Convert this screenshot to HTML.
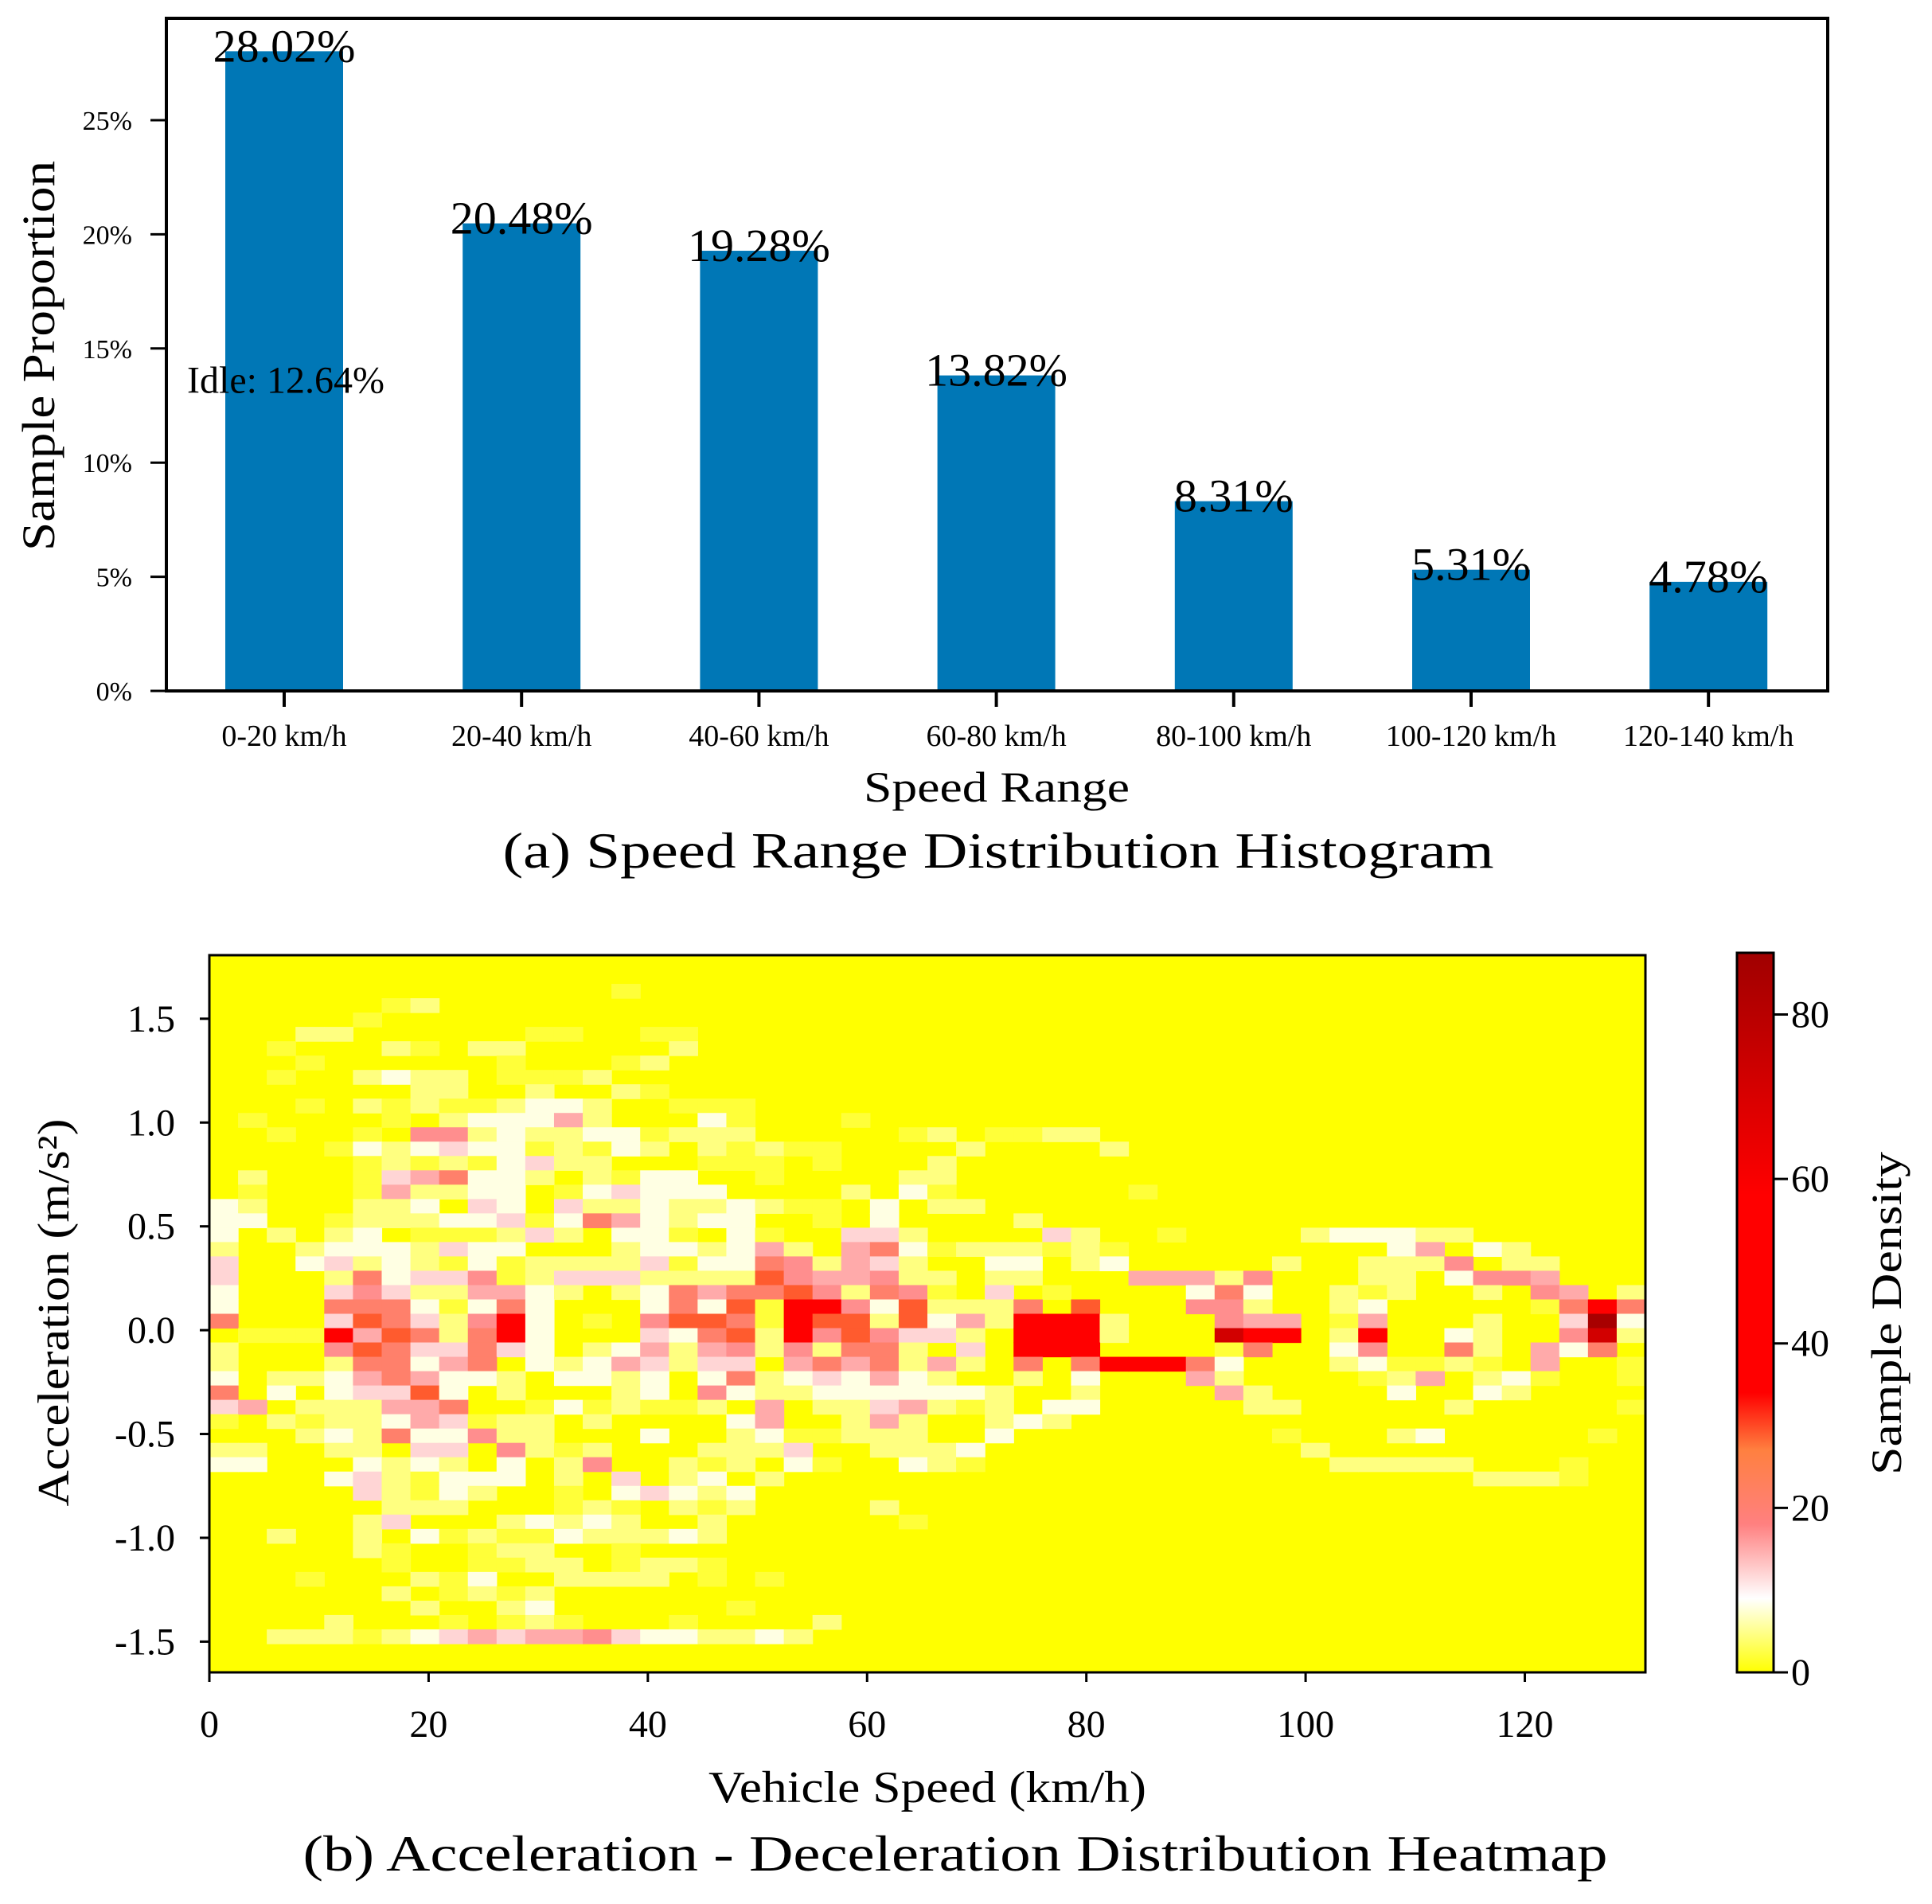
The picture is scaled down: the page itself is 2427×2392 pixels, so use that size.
<!DOCTYPE html>
<html><head><meta charset="utf-8"><style>
html,body{margin:0;padding:0;background:#fff;}
svg{display:block;font-family:"Liberation Serif",serif;}
</style></head><body>
<svg id="fig" width="2427" height="2392" viewBox="0 0 2427 2392" xmlns="http://www.w3.org/2000/svg">
<g id="topgrp"></g>
<g id="botgrp"></g>
</svg>
<script>
// ---------- Chart (a) data ----------
const categories = ["0-20 km/h","20-40 km/h","40-60 km/h","60-80 km/h","80-100 km/h","100-120 km/h","120-140 km/h"];
const proportions = [28.02, 20.48, 19.28, 13.82, 8.31, 5.31, 4.78];
const barLabels = ["28.02%","20.48%","19.28%","13.82%","8.31%","5.31%","4.78%"];
const yTicksA = [0,5,10,15,20,25];
const yTickLabelsA = ["0%","5%","10%","15%","20%","25%"];
const idleValue = 12.64;
const idleLabel = "Idle: 12.64%";

// ---------- Chart (b) data ----------
const xTicksB = [0,20,40,60,80,100,120];
const yTicksB = [1.5,1.0,0.5,0.0,-0.5,-1.0,-1.5];
const yTickLabelsB = ["1.5","1.0","0.5","0.0","-0.5","-1.0","-1.5"];
const cbTicks = [0,20,40,60,80];
const levelValues = [0,2,4.5,8,12,15,17,21,29,45,72,85];
// rows from top (acc high) to bottom; "col:level" with level a=10,b=11
const heatRows = [
"","",
"14:1",
"6:1 7:2",
"5:1",
"3:2 4:2 11:1 12:1 15:1 16:1",
"2:1 6:2 7:1 9:2 10:2 16:2",
"3:1 10:1 14:1 15:2",
"2:1 5:2 6:3 7:2 8:2 10:1 11:1 12:1 13:2",
"7:2 8:2 11:2 14:2 15:1",
"3:1 5:2 6:1 7:2 8:1 9:1 10:2 11:3 12:3 13:2 16:1 17:1 18:1",
"1:1 6:1 8:2 9:3 10:3 11:3 12:5 13:2 17:3 18:1 22:1",
"2:1 5:1 7:6 8:6 9:2 10:3 11:2 12:2 13:3 14:3 15:1 16:2 17:2 18:2 24:1 25:2 27:1 28:1 29:2 30:2",
"4:1 5:3 6:2 7:3 8:4 9:3 10:3 11:1 12:2 13:1 14:3 15:2 17:2 18:1 19:2 20:1 21:1 26:2 31:2",
"5:1 6:2 7:1 8:2 9:1 10:3 11:4 12:2 13:2 17:1 18:1 19:1 21:1 25:2",
"1:2 5:1 6:4 7:5 8:7 9:3 10:3 11:2 13:2 14:1 15:3 16:3 19:1 24:2 25:2",
"1:1 5:1 6:5 7:2 8:2 9:3 10:3 12:1 13:3 14:4 15:3 16:3 17:3 22:2 24:3 25:1 32:1",
"0:3 1:2 5:2 6:2 7:3 9:4 10:3 12:4 13:2 14:2 15:3 16:2 17:2 18:3 19:2 20:1 21:1 23:3 25:2 26:2",
"0:3 1:3 4:1 5:2 6:2 7:2 8:3 9:3 10:4 11:1 12:3 13:7 14:5 15:3 16:2 17:3 18:3 21:1 23:3 28:2",
"0:3 2:2 4:2 5:3 7:1 8:1 9:1 10:2 11:4 12:2 14:3 15:3 16:1 18:3 19:1 22:4 23:4 24:2 29:4 30:2 33:1 38:2 39:3 40:3 41:3 42:2 43:2",
"0:2 3:2 4:3 5:3 6:3 7:2 8:4 9:3 10:3 14:2 15:3 16:3 17:2 18:3 19:5 20:2 22:5 23:7 24:3 25:1 26:2 27:2 28:2 29:1 30:2 31:1 41:3 42:5 44:3 45:2",
"0:4 3:3 4:4 5:2 6:3 7:2 8:1 9:3 10:1 11:2 12:2 13:2 14:2 15:4 16:1 17:3 18:3 19:7 20:6 21:2 22:5 23:4 24:2 27:3 28:3 30:2 31:3 37:2 40:2 41:2 42:2 43:6 45:2 46:2",
"0:4 4:2 5:7 6:3 7:4 8:4 9:6 10:1 11:2 12:4 13:4 14:4 15:2 16:2 17:2 18:2 19:8 20:6 21:5 22:5 23:6 24:2 25:2 27:2 28:2 32:5 33:5 34:5 35:2 36:6 40:2 41:2 43:3 44:6 45:6 46:5",
"0:3 4:4 5:6 6:4 7:2 8:2 9:5 10:5 11:3 12:2 14:2 15:3 16:7 17:5 18:7 19:7 20:8 21:6 22:2 23:7 24:6 25:1 27:4 29:1 34:3 35:7 36:3 39:2 40:1 41:2 44:2 46:6 47:5 49:2",
"0:3 4:7 5:7 6:7 7:3 8:1 9:3 10:7 11:3 15:3 16:7 17:3 18:8 19:1 20:9 21:9 22:6 23:3 24:8 25:2 26:2 27:2 28:7 30:8 34:6 35:6 36:2 39:2 40:3 46:1 47:7 48:9 49:7",
"0:7 4:4 5:8 6:7 7:4 8:2 9:6 10:9 11:3 13:1 15:6 16:8 17:8 18:7 19:1 20:9 21:8 22:8 23:2 24:8 25:3 26:5 27:2 28:9 29:9 30:9 31:2 35:6 36:5 37:5 39:1 40:5 44:2 47:4 48:b 49:3",
"1:1 2:1 3:1 4:9 5:5 6:8 7:7 8:2 9:7 10:9 11:3 15:4 16:3 17:7 18:8 19:2 20:9 21:6 22:8 23:6 24:4 25:4 26:2 28:9 29:9 30:9 31:2 35:a 36:9 37:9 39:2 40:9 43:3 44:2 47:6 48:a 49:2",
"0:2 4:6 5:8 6:7 7:4 8:4 9:7 10:4 11:3 13:2 14:3 15:5 16:2 17:5 18:6 19:2 20:6 21:2 22:7 23:7 24:2 26:4 28:9 29:9 30:9 35:1 36:7 39:3 40:6 43:7 44:2 46:5 47:3 48:7",
"0:2 4:2 5:7 6:7 7:3 8:5 9:7 11:3 12:2 13:3 14:5 15:4 16:2 17:4 18:4 20:5 21:7 22:5 23:7 24:2 25:5 26:2 28:7 30:7 31:9 32:9 33:9 34:7 35:3 39:2 40:3 41:1 42:1 43:2 44:1 46:5 49:1",
"0:3 2:2 3:2 4:3 5:5 6:7 7:5 8:3 9:3 10:2 12:3 13:3 14:2 15:3 17:3 18:7 19:2 20:3 21:4 22:3 23:5 24:3 25:2 28:2 30:3 34:5 35:2 40:1 41:2 42:5 44:2 45:3 46:1 49:1",
"0:7 2:3 4:3 5:4 6:4 7:8 8:3 10:2 14:2 15:3 17:6 18:3 19:2 20:2 21:3 22:3 23:3 24:3 25:3 26:3 27:2 30:2 35:5 36:2 41:3 44:3 45:2",
"0:4 1:5 3:2 4:2 5:2 6:5 7:5 8:7 11:1 12:3 13:1 14:2 15:1 16:1 17:2 19:5 21:2 22:2 23:4 24:5 25:2 26:1 27:2 29:3 30:3 36:2 37:2 43:2 49:1",
"0:1 2:2 3:1 4:2 5:2 6:3 7:5 8:4 9:1 10:2 11:2 13:2 18:3 19:5 22:2 23:5 24:2 27:2 28:3 29:2",
"3:2 4:3 5:2 6:7 7:3 8:3 9:6 10:2 11:2 15:3 18:2 19:3 20:1 21:1 22:2 23:2 24:2 27:3 37:1 41:2 42:3 48:1",
"0:2 1:2 4:2 5:2 7:4 8:4 10:6 11:2 12:1 13:2 17:2 18:2 19:2 20:4 23:2 24:2 25:2 26:3 38:2",
"0:3 1:3 5:3 6:2 7:3 8:2 10:3 12:2 13:6 16:2 17:1 18:2 20:3 21:1 24:3 25:2 26:1 39:2 40:2 41:2 42:2 43:2 47:1",
"4:3 5:4 6:2 7:1 8:3 9:3 10:3 12:2 14:4 16:2 17:3 19:2 44:2 45:2 46:2 47:1",
"5:4 6:2 7:1 8:3 9:2 12:1 14:3 15:4 16:3 17:2 18:3",
"6:2 7:2 8:2 12:1 13:2 14:1 16:2 17:1 18:2 23:2",
"5:2 6:4 10:2 11:3 12:2 13:3 14:2 17:2 24:1",
"2:2 5:2 7:3 8:1 9:2 10:1 11:1 12:3 13:2 14:2 15:2 16:3 17:2",
"5:2 6:1 9:1 10:2 11:2 14:1",
"6:1 9:1 10:1 11:2 12:2 14:1 15:2 16:2 17:1",
"3:1 7:2 8:1 9:3 12:2 13:2 14:2 15:2 17:1 19:1",
"6:2 8:1 9:2 10:1 11:2",
"7:2 10:2 11:3 18:1",
"4:2 8:1 10:1 11:2 12:1 16:1 21:2",
"2:2 3:2 4:2 5:1 6:2 7:3 8:4 9:5 10:4 11:5 12:5 13:6 14:4 15:3 16:3 17:2 18:2 19:3 20:2",
"",""
];

const NS = "http://www.w3.org/2000/svg";
function mk(parent, tag, attrs, text){
  const e = document.createElementNS(NS, tag);
  for (const k in attrs) e.setAttribute(k, attrs[k]);
  if (text !== undefined) e.textContent = text;
  parent.appendChild(e);
  return e;
}
const SG = 'spacingAndGlyphs';

// ---------- Chart (a) ----------
const topG = document.getElementById('topgrp');
const A = {left:209, right:2296, top:23, bottom:868, pct:28.68, x0:357, pitch:298.2, bw:148};
const ya = v => A.bottom - v * A.pct;
const xa = i => A.x0 + i * A.pitch;

proportions.forEach((v,i)=>{
  const r = mk(topG,'rect',{x:xa(i)-A.bw/2, y:ya(v), width:A.bw, height:A.bottom-ya(v), fill:'#0077b6'});
  
  
});
proportions.forEach((v,i)=>{
  const t = mk(topG,'text',{x:xa(i), y:ya(v)+13, 'text-anchor':'middle', 'font-size':58, fill:'#000'}, barLabels[i]);
  
  
});
{
  const t = mk(topG,'text',{x:235, y:ya(idleValue)-12, 'font-size':48, fill:'#000'}, idleLabel);
  
  
}
{
  const f = mk(topG,'rect',{x:A.left, y:A.top, width:A.right-A.left, height:A.bottom-A.top, fill:'none', stroke:'#000', 'stroke-width':4});
  
  
}
yTicksA.forEach((v,i)=>{
  mk(topG,'line',{x1:A.left-20, x2:A.left, y1:ya(v), y2:ya(v), stroke:'#000', 'stroke-width':3});
  const t = mk(topG,'text',{x:166, y:ya(v)+12, 'text-anchor':'end', 'font-size':34}, yTickLabelsA[i]);
  
  
});
categories.forEach((c,i)=>{
  mk(topG,'line',{x1:xa(i), x2:xa(i), y1:A.bottom, y2:A.bottom+20, stroke:'#000', 'stroke-width':4});
  const t = mk(topG,'text',{x:xa(i), y:937, 'text-anchor':'middle', 'font-size':38}, c);
  
  
});
{
  let t = mk(topG,'text',{x:0, y:0, 'text-anchor':'middle', 'font-size':58, transform:'translate(68,447) rotate(-90)', textLength:490, lengthAdjust:SG}, 'Sample Proportion');
   
  t = mk(topG,'text',{x:1252, y:1007, 'text-anchor':'middle', 'font-size':54, textLength:334, lengthAdjust:SG}, 'Speed Range');
   
  t = mk(topG,'text',{x:1254, y:1090, 'text-anchor':'middle', 'font-size':64, textLength:1245, lengthAdjust:SG}, '(a) Speed Range Distribution Histogram');
   
}

// ---------- Chart (b) ----------
const botG = document.getElementById('botgrp');
const B = {left:263, right:2067, top:1200, bottom:2101, xmin:0, xmax:131, ymin:-1.648, ymax:1.806, nx:50, ny:50};
const xb = v => B.left + (v - B.xmin) / (B.xmax - B.xmin) * (B.right - B.left);
const yb = v => B.bottom - (v - B.ymin) / (B.ymax - B.ymin) * (B.bottom - B.top);
const CMAX = 87.5;
const stops = [[0,[255,255,0]],[9,[255,255,255]],[18,[255,128,128]],[27,[255,128,64]],[34,[255,0,0]],[58,[255,0,0]],[87.5,[160,0,0]]];
function cmap(v){
  for (let i=1;i<stops.length;i++){
    if (v <= stops[i][0]){
      const [a,ca]=stops[i-1],[b,cb]=stops[i];
      const t=(v-a)/(b-a);
      return 'rgb('+ca.map((c,k)=>Math.round(c+(cb[k]-c)*t)).join(',')+')';
    }
  }
  return 'rgb(160,0,0)';
}
const dx = (B.xmax-B.xmin)/B.nx, dy = (B.ymax-B.ymin)/B.ny;
{
  const bg = mk(botG,'rect',{x:B.left, y:B.top, width:B.right-B.left, height:B.bottom-B.top, fill:cmap(0)});
  
  
}
heatRows.forEach((row,r)=>{
  if (!row) return;
  row.split(' ').forEach(tok=>{
    const [cs,ls] = tok.split(':');
    const c = +cs, lv = parseInt(ls,16);
    const val = levelValues[lv];
    const x0 = xb(B.xmin + c*dx), x1 = xb(B.xmin + (c+1)*dx);
    const y0 = yb(B.ymax - r*dy), y1 = yb(B.ymax - (r+1)*dy);
    const cell = mk(botG,'rect',{x:x0, y:y0, width:x1-x0+0.6, height:y1-y0+0.6, fill:cmap(val)});
    
    
  });
});
{
  const f = mk(botG,'rect',{x:B.left, y:B.top, width:B.right-B.left, height:B.bottom-B.top, fill:'none', stroke:'#000', 'stroke-width':3});
  
  
}
xTicksB.forEach(v=>{
  mk(botG,'line',{x1:xb(v), x2:xb(v), y1:B.bottom, y2:B.bottom+12, stroke:'#000', 'stroke-width':3});
  const t = mk(botG,'text',{x:xb(v), y:2182, 'text-anchor':'middle', 'font-size':48}, String(v));
  
  
});
yTicksB.forEach((v,i)=>{
  mk(botG,'line',{x1:B.left-12, x2:B.left, y1:yb(v), y2:yb(v), stroke:'#000', 'stroke-width':3});
  const t = mk(botG,'text',{x:220, y:yb(v)+16, 'text-anchor':'end', 'font-size':48}, yTickLabelsB[i]);
  
  
});
// colorbar
const CB = {left:2182, right:2228, top:1197, bottom:2101};
const ycb = v => CB.bottom - v/CMAX*(CB.bottom-CB.top);
{
  const defs = mk(document.getElementById('fig'),'defs',{});
  const g = mk(defs,'linearGradient',{id:'cbgrad', x1:0, y1:1, x2:0, y2:0});
  stops.forEach(s=>{ mk(g,'stop',{offset:(s[0]/CMAX), 'stop-color':cmap(s[0])}); });
  const r = mk(botG,'rect',{x:CB.left, y:CB.top, width:CB.right-CB.left, height:CB.bottom-CB.top, fill:'url(#cbgrad)', stroke:'#000', 'stroke-width':3});
  
  
}
cbTicks.forEach(v=>{
  mk(botG,'line',{x1:CB.right, x2:CB.right+18, y1:ycb(v), y2:ycb(v), stroke:'#000', 'stroke-width':3});
  const t = mk(botG,'text',{x:2250, y:ycb(v)+16, 'font-size':48}, String(v));
  
  
});
{
  let t = mk(botG,'text',{x:0, y:0, 'text-anchor':'middle', 'font-size':54, transform:'translate(2388,1650) rotate(-90)', textLength:406, lengthAdjust:SG}, 'Sample Density');
   
  t = mk(botG,'text',{x:0, y:0, 'text-anchor':'middle', 'font-size':56, transform:'translate(86,1649) rotate(-90)', textLength:487, lengthAdjust:SG}, 'Acceleration (m/s²)');
   
  t = mk(botG,'text',{x:1165, y:2264, 'text-anchor':'middle', 'font-size':56, textLength:550, lengthAdjust:SG}, 'Vehicle Speed (km/h)');
   
  t = mk(botG,'text',{x:1200, y:2350, 'text-anchor':'middle', 'font-size':64, textLength:1639, lengthAdjust:SG}, '(b) Acceleration - Deceleration Distribution Heatmap');
   
}
</script>
</body></html>
